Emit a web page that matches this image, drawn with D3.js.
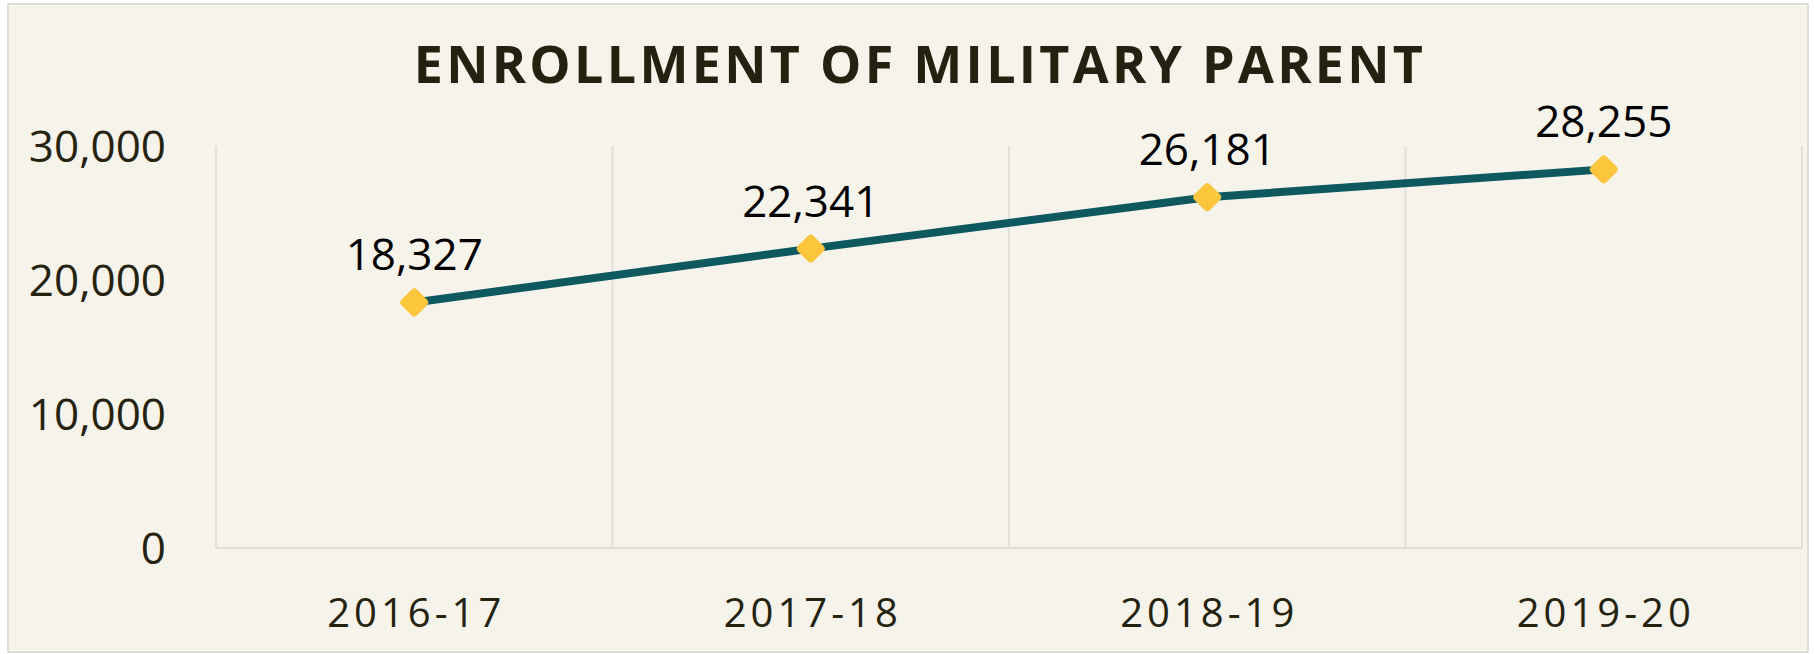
<!DOCTYPE html>
<html lang="en">
<head>
<meta charset="utf-8">
<title>Enrollment of military parent</title>
<script src="https://d3js.org/d3.v7.min.js"></script>
<style>
  body { margin: 0; background: #ffffff; }
  svg { display: block; }
  .ylab text, .xlab text { font-family: "Open Sans", sans-serif; }
</style>
</head>
<body>
<svg id="chart" width="1814" height="654"></svg>
<script>
// chart data
const years = ["2016-17", "2017-18", "2018-19", "2019-20"];
const enrollment = [18327, 22341, 26181, 28255];
const yTicks = [0, 10000, 20000, 30000];

const width = 1814, height = 654;
const plot = { left: 216, right: 1802, top: 146, bottom: 548 };

const svg = d3.select("#chart");

// card background + border
svg.append("rect")
    .attr("x", 8).attr("y", 4)
    .attr("width", width - 14).attr("height", height - 6)
    .attr("fill", "#f6f3eb")
    .attr("stroke", "#dddcd8")
    .attr("stroke-width", 2);

const x = d3.scaleBand()
    .domain(years)
    .range([plot.left, plot.right]);

const y = d3.scaleLinear()
    .domain([0, 30000])
    .range([plot.bottom, plot.top]);

// vertical gridlines at band edges
const edges = years.map(d => x(d)).concat([x(years[years.length - 1]) + x.bandwidth()]);
svg.append("g")
    .selectAll("line")
    .data(edges)
    .join("line")
    .attr("x1", d => d).attr("x2", d => d)
    .attr("y1", y(30000)).attr("y2", y(0))
    .attr("stroke", "#e2e0d9")
    .attr("stroke-width", 2);

// bottom axis line
svg.append("line")
    .attr("x1", plot.left).attr("x2", plot.right)
    .attr("y1", y(0)).attr("y2", y(0))
    .attr("stroke", "#dfddd6")
    .attr("stroke-width", 2);

// y tick labels
svg.append("g")
    .attr("class", "ylab")
    .selectAll("text")
    .data(yTicks)
    .join("text")
    .attr("x", 166)
    .attr("y", d => y(d))
    .attr("dy", "0.36em")
    .attr("text-anchor", "end")
    .attr("font-size", 44)
    .attr("fill", "#25230f")
    .text(d => d3.format(",")(d));

// x tick labels
svg.append("g")
    .attr("class", "xlab")
    .selectAll("text")
    .data(years)
    .join("text")
    .attr("x", d => x(d) + x.bandwidth() / 2 + 2)
    .attr("y", 627)
    .attr("text-anchor", "middle")
    .attr("font-size", 40)
    .attr("letter-spacing", 4)
    .attr("fill", "#25230f")
    .text(d => d);

// title
svg.append("text")
    .attr("x", 920)
    .attr("y", 83)
    .attr("text-anchor", "middle")
    .attr("font-family", "'Open Sans', sans-serif")
    .attr("font-weight", "bold")
    .attr("font-size", 52)
    .attr("letter-spacing", 3.3)
    .attr("fill", "#23210f")
    .text("ENROLLMENT OF MILITARY PARENT");

// the line
const line = d3.line()
    .x((d, i) => x(years[i]) + x.bandwidth() / 2)
    .y(d => y(d));

svg.append("path")
    .datum(enrollment)
    .attr("d", line)
    .attr("fill", "none")
    .attr("stroke", "#0e5860")
    .attr("stroke-width", 8)
    .attr("stroke-linecap", "round");

// diamond markers
svg.append("g")
    .selectAll("rect")
    .data(enrollment)
    .join("rect")
    .attr("x", -11).attr("y", -11)
    .attr("width", 22).attr("height", 22)
    .attr("rx", 4)
    .attr("fill", "#fbc63c")
    .attr("transform", (d, i) => "translate(" + (x(years[i]) + x.bandwidth() / 2) + "," + y(d) + ") rotate(45)");

// data labels
svg.append("g")
    .selectAll("text")
    .data(enrollment)
    .join("text")
    .attr("x", (d, i) => x(years[i]) + x.bandwidth() / 2)
    .attr("y", d => y(d) - 32)
    .attr("text-anchor", "middle")
    .attr("font-family", "'Open Sans', sans-serif")
    .attr("font-size", 44)
    .attr("fill", "#000000")
    .text(d => d3.format(",")(d));
</script>
</body>
</html>
